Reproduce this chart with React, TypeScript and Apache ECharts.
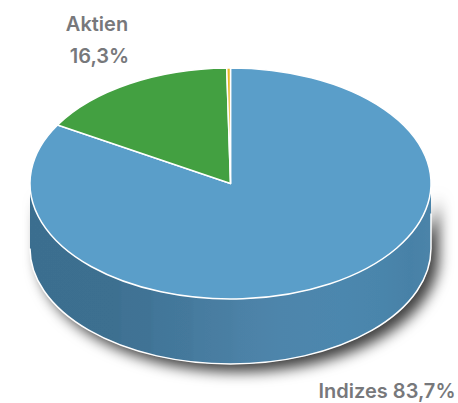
import React, { useEffect, useRef } from "react";
import * as echarts from "echarts";

const sliceNames = ["Indizes", "Aktien", "Sonstige"];
const sliceValues = [83.7, 16.3, 0.3];
const sliceColors = ["#5a9ec9", "#43a041", "#e8b924"];
const labelLines = ["Aktien", "16,3%", "Indizes 83,7%"];

const CX = 230.5;
const CY = 183.5;
const RX = 200.5;
const RY = 115.5;
const DEPTH = 65;

const pt = (a: number, dy = 0) => [CX + RX * Math.sin(a), CY + dy - RY * Math.cos(a)];
const total = sliceValues.reduce((s, v) => s + v, 0);

function slicePath(index: number) {
  const before = sliceValues.slice(0, index).reduce((s, v) => s + v, 0);
  const a0 = (before / total) * Math.PI * 2;
  const a1 = ((before + sliceValues[index]) / total) * Math.PI * 2;
  const [x0, y0] = pt(a0);
  const [x1, y1] = pt(a1);
  const large = a1 - a0 > Math.PI ? 1 : 0;
  return `M${CX} ${CY}L${x0} ${y0}A${RX} ${RY} 0 ${large} 1 ${x1} ${y1}Z`;
}

const wallPath =
  `M${CX - RX} ${CY}L${CX - RX} ${CY + DEPTH}` +
  `A${RX} ${RY} 0 0 0 ${CX + RX} ${CY + DEPTH}L${CX + RX} ${CY}` +
  `A${RX} ${RY} 0 0 1 ${CX - RX} ${CY}Z`;

const wallEdgePath =
  `M${CX - RX} ${CY + DEPTH}A${RX} ${RY} 0 0 0 ${CX + RX} ${CY + DEPTH}L${CX + RX} ${CY + 30}`;

const wallStops = [
  [0, "#3b6e8f"],
  [0.22, "#3c6f90"],
  [0.23, "#3f7294"],
  [0.3, "#3f7395"],
  [0.31, "#427699"],
  [0.4, "#44799c"],
  [0.41, "#467b9f"],
  [0.5, "#4a7fa3"],
  [0.52, "#4c81a6"],
  [0.62, "#4e85ab"],
  [0.78, "#4c87ae"],
  [0.88, "#4a85ab"],
  [0.95, "#4781a7"],
  [1, "#4c84a9"],
];

export default function App() {
  const ref = useRef<HTMLDivElement>(null);
  useEffect(() => {
    const chart = echarts.init(ref.current!, undefined, { renderer: "svg" });
    chart.setOption({
      animation: false,
      backgroundColor: "#ffffff",
      series: [
        {
          type: "custom",
          coordinateSystem: "none",
          silent: true,
          data: [1],
          renderItem: () => ({
            type: "group",
            children: [
              {
                type: "path",
                shape: { pathData: wallPath },
                style: {
                  fill: {
                    type: "linear",
                    x: 0,
                    y: 0,
                    x2: 1,
                    y2: 0,
                    colorStops: wallStops.map(([offset, color]) => ({ offset, color })),
                  },
                  shadowColor: "rgba(0,0,0,0.75)",
                  shadowBlur: 14,
                  shadowOffsetX: 8,
                  shadowOffsetY: 8,
                },
              },
              {
                type: "path",
                shape: { pathData: wallEdgePath },
                style: { fill: "none", stroke: "#ffffff", lineWidth: 1.5 },
              },
            ],
          }),
        },
        {
          type: "custom",
          coordinateSystem: "none",
          silent: true,
          data: sliceNames.map((name, i) => ({ name, value: sliceValues[i] })),
          renderItem: (params: any) => ({
            type: "path",
            shape: { pathData: slicePath(params.dataIndex) },
            style: {
              fill: sliceColors[params.dataIndex],
              stroke: "#ffffff",
              lineWidth: 1.5,
              lineJoin: "round",
            },
          }),
        },
      ],
      graphic: [
        { text: labelLines[0], x: 97, y: 24 },
        { text: labelLines[1], x: 99.5, y: 56 },
        { text: labelLines[2], x: 387, y: 391 },
      ].map((t) => ({
        type: "text",
        x: t.x,
        y: t.y,
        style: {
          text: t.text,
          fill: "#77787b",
          font: "600 20px Inter",
          align: "center",
          verticalAlign: "middle",
        },
      })),
    });
    return () => chart.dispose();
  }, []);
  return <div ref={ref} style={{ position: "fixed", left: 0, top: 0, width: 458, height: 403 }} />;
}
